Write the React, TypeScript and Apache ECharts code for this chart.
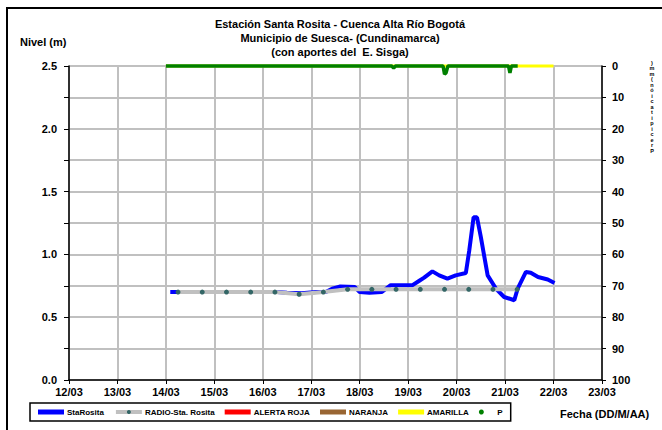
import React, { useEffect, useRef } from "react";
import * as echarts from "echarts";

const xLabels = ["12/03", "13/03", "14/03", "15/03", "16/03", "17/03", "18/03", "19/03", "20/03", "21/03", "22/03", "23/03"];
const titleLines = [
  "Estación Santa Rosita - Cuenca Alta Río Bogotá",
  "Municipio de Suesca- (Cundinamarca)",
  "(con aportes del  E. Sisga)",
];

const staDays = [14.09, 14.5, 15.0, 15.5, 16.0, 16.3, 16.5, 16.8, 17.1, 17.3, 17.45, 17.6, 17.9, 18.0, 18.2, 18.45, 18.64, 19.09, 19.23, 19.33, 19.5, 19.64, 19.81, 19.98, 20.19, 20.26, 20.35, 20.42, 20.5, 20.64, 20.81, 20.98, 21.19, 21.26, 21.43, 21.53, 21.68, 21.88, 22.02];
const staLevels = [0.7, 0.7, 0.7, 0.7, 0.7, 0.7, 0.695, 0.69, 0.7, 0.7, 0.73, 0.745, 0.74, 0.7, 0.695, 0.7, 0.755, 0.755, 0.79, 0.815, 0.865, 0.833, 0.807, 0.833, 0.852, 1.03, 1.295, 1.295, 1.137, 0.833, 0.728, 0.661, 0.635, 0.728, 0.86, 0.854, 0.82, 0.8, 0.772];

const radioDays = [14.25, 14.75, 15.25, 15.75, 16.25, 16.75, 17.25, 17.75, 18.25, 18.75, 19.25, 19.75, 20.25, 20.75, 21.25];
const radioLevels = [0.7, 0.7, 0.7, 0.7, 0.7, 0.683, 0.7, 0.722, 0.722, 0.722, 0.722, 0.722, 0.722, 0.722, 0.722];

const amarillaDays = [14.0, 22.0];
const amarillaLevels = [2.5, 2.5];

const pDays = [14.0, 18.66, 18.7, 18.74, 19.72, 19.75, 19.78, 19.82, 21.07, 21.1, 21.13, 21.26];
const pValues = [0, 0, 0.6, 0, 0, 2.6, 2.2, 0, 0, 2.2, 0, 0];

const zip = (a: number[], b: number[]) => a.map((v, i) => [v, b[i]]);

const FONT = "'Liberation Sans', Arial, sans-serif";

export default function App() {
  const ref = useRef<HTMLDivElement>(null);
  useEffect(() => {
    if (!ref.current) return;
    const chart = echarts.init(ref.current, null, { renderer: "svg" });
    const gridColor = "#c0c0c0";
    chart.setOption({
      animation: false,
      backgroundColor: "#ffffff",
      textStyle: { fontFamily: FONT },
      title: {
        text: titleLines.join("\n"),
        left: 335,
        textAlign: "center",
        top: 12,
        textStyle: { fontFamily: FONT, fontSize: 11, fontWeight: "bold", color: "#000", lineHeight: 14 },
      },
      grid: { left: 69, right: 60, top: 66, bottom: 50, containLabel: false },
      legend: {
        left: 30,
        top: 403,
        orient: "horizontal",
        itemGap: 10,
        itemWidth: 26,
        itemHeight: 5,
        padding: [5, 8],
        borderColor: "#000",
        borderWidth: 1.5,
        lineStyle: { width: 4 },
        textStyle: { fontFamily: FONT, fontSize: 8, fontWeight: "bold", color: "#000", padding: [0, 0, 0, -2] },
        data: [
          { name: "StaRosita", icon: "rect" },
          { name: "RADIO-Sta. Rosita" },
          { name: "ALERTA ROJA", icon: "rect" },
          { name: "NARANJA", icon: "rect" },
          { name: "AMARILLA", icon: "rect" },
          { name: "P", icon: "circle" },
        ],
      },
      xAxis: {
        type: "value",
        min: 12,
        max: 23,
        interval: 1,
        axisLine: { show: true, lineStyle: { color: "#000", width: 1.5 } },
        axisTick: { show: true, length: 4, lineStyle: { color: "#000" } },
        axisLabel: {
          margin: 6,
          fontFamily: FONT,
          fontSize: 11,
          fontWeight: "bold",
          color: "#000",
          formatter: (v: number) => xLabels[Math.round(v - 12)] ?? "",
        },
        splitLine: { show: true, lineStyle: { color: gridColor, width: 2 } },
      },
      yAxis: [
        {
          type: "value",
          min: 0,
          max: 2.5,
          interval: 0.25,
          position: "left",
          axisLine: { show: true, lineStyle: { color: "#000", width: 1.5 } },
          axisTick: { show: true, length: 5, lineStyle: { color: "#000" } },
          axisLabel: {
            margin: 12,
            fontFamily: FONT,
            fontSize: 11,
            fontWeight: "bold",
            color: "#000",
            formatter: (v: number) => (Math.abs(v * 2 - Math.round(v * 2)) < 1e-6 ? v.toFixed(1) : ""),
          },
          splitLine: { show: true, lineStyle: { color: gridColor, width: 2 } },
        },
        {
          type: "value",
          min: 0,
          max: 100,
          interval: 10,
          inverse: true,
          position: "right",
          axisLine: { show: true, lineStyle: { color: "#000", width: 1.5 } },
          axisTick: { show: true, length: 4, lineStyle: { color: "#000" } },
          axisLabel: { margin: 10, fontFamily: FONT, fontSize: 11, fontWeight: "bold", color: "#000" },
          splitLine: { show: false },
        },
      ],
      series: [
        {
          name: "StaRosita",
          type: "line",
          yAxisIndex: 0,
          data: zip(staDays, staLevels),
          symbol: "none",
          lineStyle: { color: "#0000ff", width: 4 },
          itemStyle: { color: "#0000ff" },
          z: 3,
        },
        {
          name: "RADIO-Sta. Rosita",
          type: "line",
          yAxisIndex: 0,
          data: zip(radioDays, radioLevels),
          symbol: "circle",
          symbolSize: 5,
          lineStyle: { color: "#c0c0c0", width: 4 },
          itemStyle: { color: "#336666" },
          z: 4,
        },
        {
          name: "ALERTA ROJA",
          type: "line",
          yAxisIndex: 0,
          data: [],
          symbol: "none",
          lineStyle: { color: "#ff0000", width: 3 },
          itemStyle: { color: "#ff0000" },
        },
        {
          name: "NARANJA",
          type: "line",
          yAxisIndex: 0,
          data: [],
          symbol: "none",
          lineStyle: { color: "#996633", width: 3 },
          itemStyle: { color: "#996633" },
        },
        {
          name: "AMARILLA",
          type: "line",
          yAxisIndex: 0,
          data: zip(amarillaDays, amarillaLevels),
          symbol: "none",
          clip: false,
          lineStyle: { color: "#ffff00", width: 3 },
          itemStyle: { color: "#ffff00" },
          z: 5,
        },
        {
          name: "P",
          type: "line",
          yAxisIndex: 1,
          data: zip(pDays, pValues),
          symbol: "none",
          clip: false,
          lineStyle: { color: "#008000", width: 3.5 },
          itemStyle: { color: "#008000" },
          z: 6,
        },
      ],
      graphic: [
        {
          type: "rect",
          shape: { x: 7, y: 8, width: 720, height: 520 },
          style: { fill: "none", stroke: "#000", lineWidth: 2 },
          silent: true,
          z: 100,
        },
        {
          type: "text",
          x: 20,
          y: 36,
          style: { text: "Nivel (m)", font: `bold 11px ${FONT}`, fill: "#000" },
        },
        {
          type: "text",
          x: 560,
          y: 408,
          style: { text: "Fecha (DD/M/AA)", font: `bold 11px ${FONT}`, fill: "#000" },
        },
        {
          type: "text",
          x: 652,
          y: 60,
          style: {
            text: ")mm(nóicatipicerP".split("").join("\n"),
            font: `bold 5.5px ${FONT}`,
            fill: "#000",
            align: "center",
            lineHeight: 5.5,
          },
        },
      ],
    });
    return () => chart.dispose();
  }, []);
  return <div ref={ref} style={{ position: "absolute", left: 0, top: 0, width: 662, height: 430 }} />;
}
